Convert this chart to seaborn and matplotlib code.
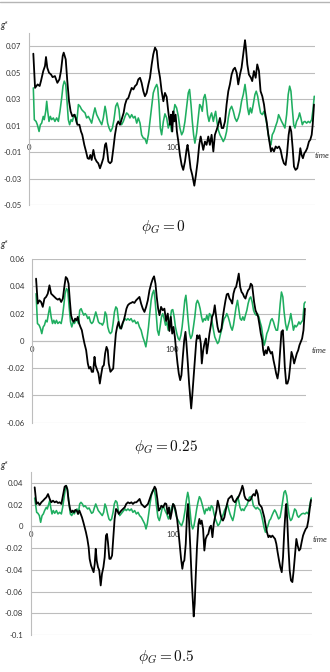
import matplotlib
matplotlib.use("Agg")
import matplotlib.pyplot as plt
import matplotlib.transforms as mtransforms
from matplotlib.lines import Line2D
import seaborn as sns

# ---------------- data ----------------
# panel 1 (phi_G = 0)
p1_black_t = [3.0,4.2,6.0,7.4,8.3,9.9,11.1,11.8,12.7,13.9,15.3,16.4,18.0,19.7,21.1,22.2,23.4,24.1,25.5,26.6,27.8,28.9,30.1,31.5,32.4,33.6,35.0,36.1,37.0,38.4,39.6,40.7,41.7,42.6,43.5,44.7,45.8,47.0,48.1,49.3,50.5,51.6,52.8,53.5,54.2,55.1,56.3,57.4,58.6,59.7,60.9,62.0,63.2,64.3,65.7,66.7,67.8,69.0,70.1,71.3,72.5,73.6,74.8,75.9,77.1,78.2,79.4,80.5,81.7,82.9,84.0,85.2,86.3,87.5,88.7,89.8,91.0,92.1,93.3,94.4,95.6,96.7,97.9,98.6,99.5,100.2,100.9,101.8,102.7,103.7,104.8,106.0,107.1,108.3,109.4,110.1,111.1,112.2,113.4,114.8,115.9,117.1,118.2,119.2,119.9,121.0,122.2,123.3,124.5,125.6,126.8,128.0,129.1,130.3,131.4,132.6,133.8,134.9,136.1,137.2,138.4,139.5,140.7,141.9,143.0,144.2,145.3,146.5,147.6,148.8,150.0,150.6,151.6,152.7,154.1,155.0,156.2,157.4,158.5,159.7,160.8,162.0,163.2,163.8,165.0,166.2,167.3,168.0,168.9,170.1,171.3,172.4,173.6,174.7,175.9,177.0,178.2,179.1,180.3,181.2,182.1,183.1,184.0,185.1,186.3,187.5,188.4,189.3,190.2,191.2,192.1,193.2,194.4,195.3,196.3,197.0,197.9]
p1_black_v = [0.0644,0.0386,0.0412,0.040,0.0437,0.0513,0.0551,0.0619,0.0538,0.050,0.0487,0.0467,0.0475,0.0424,0.045,0.0513,0.0627,0.0652,0.0601,0.0437,0.0285,0.0209,0.0171,0.0184,0.0159,0.0108,0.0108,0.0057,0.0032,-0.0044,-0.0094,-0.0145,-0.015,-0.012,-0.0158,-0.0082,-0.0145,-0.017,-0.0183,-0.0221,-0.0183,-0.0145,-0.0044,-0.0031,-0.0082,-0.017,-0.0183,-0.017,-0.0069,0.0032,0.0108,0.0133,0.0108,0.0146,0.0197,0.026,0.0298,0.031,0.0348,0.0386,0.0374,0.0399,0.0412,0.045,0.0462,0.0424,0.0361,0.0323,0.0348,0.0412,0.0462,0.0563,0.0639,0.069,0.0665,0.0538,0.0462,0.0361,0.0285,0.0348,0.0318,0.0209,0.0108,0.0184,0.0057,0.0209,0.0133,0.0184,0.0057,-0.0019,-0.012,-0.0196,-0.0233,-0.017,-0.0082,-0.0044,-0.012,-0.0221,-0.0272,-0.0352,-0.0272,-0.017,-0.0044,0.0019,-0.0019,-0.0082,-0.0019,-0.0044,0.0019,-0.0044,0.0032,-0.0094,0.0032,0.007,0.0108,0.0159,0.0083,0.0083,0.0133,0.026,0.0361,0.0412,0.0487,0.0525,0.0538,0.050,0.0412,0.0487,0.0538,0.0639,0.0746,0.069,0.0563,0.0487,0.0462,0.0437,0.0513,0.0462,0.0563,0.0513,0.0361,0.0323,0.026,0.0209,0.0133,0.0032,-0.0044,-0.0094,-0.0069,-0.0094,-0.0056,-0.0069,-0.0056,-0.0082,-0.0145,-0.0183,-0.0196,-0.012,0.0032,0.0095,0.0057,-0.0069,-0.0208,-0.0233,-0.0221,-0.0158,-0.0069,-0.012,-0.0145,-0.0107,-0.0094,-0.0069,-0.0019,-0.0006,0.0032,0.0108,0.026]
p1_green_t = [3.0,3.7,4.9,5.8,7.0,7.9,8.8,9.9,10.6,11.6,12.3,13.0,13.9,14.8,15.7,16.9,18.0,19.2,20.4,21.5,22.7,23.6,24.5,25.5,26.4,27.3,28.2,29.2,30.1,31.0,31.9,33.1,34.3,35.4,36.6,37.7,38.9,40.0,41.2,42.4,43.5,44.7,45.8,47.0,48.1,49.3,50.5,51.6,52.8,53.5,54.6,55.6,56.7,57.9,59.0,60.2,61.3,62.5,63.4,64.3,65.5,66.7,67.8,69.0,70.1,71.3,72.5,73.6,74.8,75.9,77.1,78.2,79.4,80.5,81.7,82.9,84.0,85.2,86.3,87.5,88.7,89.4,90.3,91.2,92.1,93.3,94.4,95.6,96.7,97.9,99.0,100.2,101.3,102.5,103.7,104.8,106.0,107.1,108.3,109.4,110.6,111.5,112.5,113.4,114.3,115.2,116.4,117.5,118.5,119.4,120.3,121.3,122.2,123.1,124.0,125.0,125.9,126.8,128.0,128.7,129.6,130.5,131.4,132.6,133.8,134.9,136.1,137.2,138.4,139.5,140.7,141.9,143.0,144.2,145.3,146.5,147.6,148.8,150.0,150.9,151.8,152.7,153.7,154.6,155.7,156.9,157.8,158.8,159.7,160.8,162.0,163.1,164.3,165.2,166.2,167.1,168.0,168.9,170.1,171.2,172.4,173.3,174.3,175.4,176.6,177.7,178.9,180.0,181.0,181.9,182.8,183.8,184.7,185.8,187.0,187.9,188.8,189.8,190.7,191.6,192.8,193.9,195.1,196.3,197.2,198.1]
p1_green_v = [0.0386,0.0146,0.0133,0.0108,0.0057,0.0108,0.012,0.0171,0.0146,0.0209,0.0285,0.0209,0.0133,0.0171,0.0146,0.0159,0.0133,0.0159,0.0133,0.0209,0.031,0.0399,0.0437,0.0412,0.0285,0.0146,0.0108,0.0146,0.0133,0.0171,0.0184,0.012,0.026,0.0247,0.0222,0.0209,0.0197,0.0159,0.0171,0.0146,0.012,0.0184,0.0235,0.0184,0.0159,0.0133,0.0108,0.0159,0.0247,0.0209,0.012,0.0083,0.0057,0.0083,0.0146,0.0247,0.0272,0.0222,0.012,0.0108,0.0133,0.0171,0.0197,0.0184,0.0159,0.0184,0.0159,0.0171,0.012,0.0159,0.012,0.0032,0.0007,0.0004,-0.0034,0.0032,0.0133,0.0247,0.0348,0.0386,0.0412,0.0386,0.026,0.0083,0.0032,0.0133,0.019,0.0159,0.0083,0.0133,0.0057,0.0184,0.026,0.0235,0.0171,0.0083,0.0032,0.0057,0.0133,0.0235,0.0348,0.0374,0.026,0.0133,0.0032,-0.0031,0.0045,0.0159,0.026,0.0247,0.0209,0.031,0.0336,0.0285,0.0184,0.0133,0.0171,0.0197,0.0133,0.0171,0.0209,0.0133,0.007,0.0032,0.0007,-0.0019,0.0007,0.0057,0.0159,0.0222,0.0247,0.0209,0.0159,0.0133,0.0159,0.0209,0.0285,0.0336,0.0412,0.0336,0.0235,0.0184,0.0235,0.0197,0.026,0.0336,0.0361,0.0323,0.026,0.0197,0.0184,0.0209,0.0159,0.0108,0.0032,-0.0019,-0.0044,0.0032,0.0057,0.0095,0.0133,0.0184,0.0159,0.0133,0.0108,0.0083,0.0184,0.0336,0.0399,0.0361,0.0235,0.0108,0.0083,0.0133,0.0159,0.0197,0.0159,0.0108,0.0128,0.0133,0.012,0.0133,0.0123,0.0146,0.0222,0.0323]

# panel 2 (phi_G = 0.25)
p2_black_t = [2.7,3.9,5.1,6.3,7.5,8.7,9.9,11.1,12.3,13.5,14.7,15.9,17.1,18.3,19.5,20.7,21.9,23.1,24.0,25.0,26.0,26.9,27.8,28.8,29.7,30.7,31.7,32.6,33.6,34.5,35.5,36.4,37.4,38.6,39.8,40.7,41.7,42.6,43.6,44.6,45.3,46.5,47.4,48.4,49.3,50.3,51.3,52.2,53.2,54.1,54.8,56.0,57.0,58.0,58.9,59.9,60.8,61.8,62.7,63.7,64.6,65.6,66.5,67.5,68.5,69.7,70.8,72.0,73.2,74.4,75.6,76.8,78.0,79.2,80.4,81.6,82.8,84.0,85.2,86.4,87.3,88.3,89.2,90.2,91.2,92.3,93.5,94.7,95.9,97.1,98.3,99.3,100.3,101.2,102.2,103.1,104.1,105.0,106.0,106.9,107.9,108.9,109.8,110.5,111.5,112.4,113.4,113.9,114.6,115.5,116.5,117.5,118.2,118.9,119.9,120.8,121.5,122.5,123.4,124.4,125.1,126.1,127.0,128.0,128.9,129.9,130.8,131.8,132.8,133.7,134.7,135.6,136.6,137.5,138.5,139.4,140.4,141.4,142.3,143.3,144.2,145.2,146.1,147.1,148.0,149.0,150.0,150.9,151.9,152.8,153.8,154.7,155.7,156.6,157.6,158.3,159.0,160.0,161.0,161.9,162.9,163.8,164.8,165.5,166.2,167.2,168.1,169.1,170.0,171.0,171.9,172.9,173.9,174.8,175.8,176.7,177.7,178.6,179.6,180.3,181.0,182.0,182.9,183.9,184.8,185.8,186.8,187.7,188.7,189.6,190.6,191.5,192.5,193.4,194.4,195.4]
p2_black_v = [0.0456,0.0273,0.0297,0.0285,0.0249,0.031,0.0322,0.0346,0.0407,0.0346,0.0334,0.0322,0.031,0.0302,0.031,0.0285,0.031,0.0407,0.0468,0.0456,0.0419,0.0297,0.0188,0.0151,0.0139,0.0163,0.0151,0.0176,0.0127,0.0102,0.0078,0.0029,-0.002,-0.0069,-0.0166,-0.0203,-0.0191,-0.0227,-0.0227,-0.0117,-0.0178,-0.0215,-0.0239,-0.0313,-0.0252,-0.0191,-0.0178,-0.0093,-0.0044,-0.0069,-0.0166,-0.0227,-0.0215,-0.0203,-0.0069,0.0053,0.0102,0.0139,0.0102,0.009,0.0127,0.0151,0.0188,0.0236,0.0261,0.0273,0.0278,0.0285,0.0278,0.0297,0.031,0.0322,0.0273,0.0236,0.0212,0.0249,0.0297,0.0371,0.0419,0.0456,0.0473,0.0419,0.0322,0.0236,0.0188,0.0249,0.0224,0.0236,0.0145,0.02,0.0072,0.0176,0.0053,0.0102,0.0029,-0.0069,-0.0166,-0.0239,-0.0288,-0.0252,-0.0117,0.0005,0.0066,-0.002,-0.0166,-0.0313,-0.0435,-0.0496,-0.041,-0.0288,-0.0142,-0.0007,0.0041,0.0017,0.0041,-0.002,-0.0166,-0.0069,-0.002,0.0017,-0.0093,-0.002,0.0053,0.0114,0.0176,0.02,0.0261,0.0176,0.0102,0.0066,0.0066,0.009,0.0176,0.0236,0.0297,0.0341,0.0346,0.031,0.0297,0.0273,0.0346,0.0383,0.0395,0.0444,0.0493,0.0395,0.0358,0.0346,0.0322,0.031,0.0346,0.0371,0.0383,0.0419,0.0407,0.0346,0.0285,0.0224,0.02,0.0176,0.0114,0.0053,0.0005,-0.0069,-0.0105,-0.0069,-0.0093,-0.0044,-0.0069,-0.0093,-0.0081,-0.0142,-0.019,-0.0239,-0.0276,-0.0215,-0.0069,0.0066,0.0078,-0.0044,-0.019,-0.0313,-0.0313,-0.0276,-0.019,-0.0081,-0.0117,-0.0166,-0.0129,-0.0093,-0.0069,-0.0032,-0.0007,0.0017,0.0078,0.0236]
p2_green_t = [2.7,3.7,4.9,5.9,6.8,7.8,8.7,9.7,10.6,11.6,12.5,13.5,14.5,15.4,16.4,17.3,18.3,19.5,20.7,21.6,22.6,23.5,24.5,25.4,26.4,27.4,28.3,29.3,30.2,31.2,32.1,33.1,34.0,35.0,35.9,36.9,37.9,38.8,39.8,40.7,41.7,42.6,43.6,44.6,45.5,46.5,47.4,48.4,49.3,50.3,51.3,52.2,53.2,54.1,55.1,56.0,57.0,57.9,58.9,59.9,60.8,61.8,62.7,63.7,64.6,65.6,66.5,67.5,68.5,69.7,70.8,72.0,73.2,74.4,75.6,76.8,78.0,79.2,80.4,81.4,82.3,83.3,84.2,85.2,86.1,87.1,87.8,88.8,89.7,90.7,91.6,92.6,93.5,94.5,95.5,96.4,97.4,98.6,99.8,100.7,101.7,102.6,103.6,104.6,105.5,106.5,107.4,108.4,109.3,110.1,110.8,111.7,112.7,113.6,114.6,115.5,116.5,117.5,118.4,119.4,120.3,121.3,122.2,123.2,124.2,125.1,126.1,127.0,128.0,128.9,129.9,130.8,131.8,132.8,133.7,134.7,135.6,136.6,137.5,138.5,139.4,140.4,141.4,142.3,143.3,144.2,145.2,146.1,147.1,148.0,149.0,150.0,150.9,151.9,152.8,153.8,154.7,155.7,156.6,157.6,158.6,159.5,160.5,161.4,162.4,163.3,164.3,165.3,166.2,167.2,168.1,169.1,170.0,171.0,171.9,172.9,173.9,174.8,175.8,176.7,177.7,178.6,179.6,180.5,181.5,182.5,183.4,184.4,185.3,186.3,187.2,188.2,189.1,190.1,191.1,192.0,193.0,193.9,194.9,195.6]
p2_green_v = [0.0346,0.0127,0.0115,0.009,0.0053,0.0102,0.0115,0.0151,0.0139,0.02,0.0249,0.0176,0.0127,0.0151,0.0127,0.0151,0.0127,0.0139,0.0127,0.0176,0.0261,0.0346,0.0383,0.0371,0.0249,0.0139,0.0102,0.0139,0.0127,0.0151,0.0151,0.0127,0.0224,0.0236,0.0212,0.0188,0.02,0.0188,0.0163,0.0176,0.0139,0.0127,0.0139,0.0176,0.0212,0.0176,0.0139,0.0127,0.0127,0.0115,0.0139,0.0212,0.0188,0.0102,0.0066,0.0053,0.0066,0.0127,0.0212,0.0249,0.0236,0.0151,0.009,0.009,0.0115,0.0151,0.0163,0.0151,0.0163,0.0151,0.0163,0.0139,0.0151,0.0127,0.0139,0.0102,0.0078,0.0029,-0.0007,-0.0044,0.0017,0.0102,0.02,0.0297,0.0346,0.0371,0.0322,0.02,0.0078,0.0041,0.0102,0.0176,0.02,0.0163,0.0115,0.0139,0.0078,0.0139,0.0224,0.0229,0.0176,0.0102,0.0053,0.0017,0.0005,0.0041,0.0102,0.02,0.0297,0.0334,0.0261,0.0151,0.0053,0.0017,0.0041,0.0102,0.0176,0.0273,0.0297,0.0273,0.0236,0.0176,0.0139,0.0163,0.0151,0.0188,0.0151,0.02,0.0188,0.0139,0.0078,0.0029,0.0005,-0.002,-0.0007,0.0041,0.0078,0.0127,0.0163,0.0176,0.02,0.0176,0.0139,0.0102,0.0078,0.0115,0.0188,0.0249,0.0297,0.0236,0.0163,0.0151,0.0176,0.0151,0.0188,0.0224,0.0273,0.031,0.0322,0.0285,0.0224,0.02,0.0188,0.02,0.0176,0.0139,0.0102,0.0029,-0.0032,0.0005,0.0053,0.0078,0.0114,0.0151,0.0163,0.0139,0.0102,0.0078,0.0078,0.0151,0.0273,0.0358,0.0322,0.0212,0.0127,0.0078,0.0114,0.0151,0.02,0.0139,0.0078,0.0114,0.0102,0.0115,0.0139,0.0122,0.0139,0.0151,0.0273,0.0285]

# panel 3 (phi_G = 0.5)
p3_black_t = [2.8,4.0,5.1,6.3,7.5,8.7,9.8,11.0,12.2,13.4,14.5,15.7,16.9,18.1,19.2,20.4,21.6,22.7,23.9,24.9,25.8,26.7,27.7,28.6,29.6,30.5,31.4,32.4,33.3,34.3,35.2,36.1,37.1,38.0,38.9,39.9,40.8,41.5,42.5,43.4,44.3,45.1,45.8,46.5,47.4,48.3,49.3,50.2,51.2,52.1,53.0,53.7,54.4,55.4,56.3,57.3,58.2,59.1,60.1,61.0,62.0,62.9,63.8,65.0,66.2,67.3,68.5,69.7,70.9,72.0,73.2,74.4,75.6,76.7,77.9,79.1,80.3,81.4,82.6,83.8,85.0,86.1,87.3,88.2,89.2,90.1,91.1,92.0,93.2,94.6,95.5,96.5,97.4,98.4,99.3,100.2,101.2,102.1,103.1,104.0,104.9,105.9,106.8,107.5,108.2,109.2,110.1,110.8,111.5,112.4,113.4,114.3,114.8,115.5,116.2,117.1,118.1,118.8,119.5,120.4,121.4,122.3,123.2,124.2,125.1,126.1,127.0,128.0,128.9,129.8,130.8,131.7,132.6,133.6,134.5,135.4,136.4,137.3,138.3,139.2,140.4,141.5,142.7,143.9,145.1,146.2,147.2,148.1,149.1,149.8,150.5,151.4,152.4,153.3,154.2,155.2,156.1,157.0,158.0,158.9,159.9,160.8,161.8,162.7,163.6,164.5,165.5,166.4,167.4,168.3,169.2,170.2,171.1,172.1,173.0,173.9,174.9,175.8,176.8,177.7,178.6,179.6,180.0,180.7,181.5,182.4,183.3,184.3,185.2,186.2,187.1,188.0,189.0,189.9,190.8,191.8,192.7,193.7,194.6,195.5,196.5,197.4]
p3_black_v = [0.0359,0.0206,0.0221,0.0197,0.0221,0.0236,0.0252,0.0267,0.0297,0.0252,0.0221,0.0236,0.0221,0.023,0.0215,0.0221,0.0206,0.0282,0.0365,0.0374,0.0343,0.0236,0.016,0.0129,0.0145,0.0129,0.0151,0.0145,0.0114,0.0145,0.0114,0.0083,0.0037,-0.0009,-0.0054,-0.0116,-0.0192,-0.0299,-0.036,-0.0391,-0.0422,-0.0345,-0.0207,-0.0314,-0.0376,-0.0406,-0.0544,-0.0437,-0.0376,-0.0284,-0.0085,-0.007,-0.0146,-0.0299,-0.0299,-0.0268,-0.01,0.0068,0.016,0.0145,0.0114,0.0129,0.0145,0.016,0.0175,0.0206,0.0221,0.0212,0.0221,0.0206,0.0221,0.0221,0.0236,0.0252,0.0206,0.019,0.0175,0.019,0.0206,0.0252,0.0297,0.0328,0.0365,0.0343,0.0252,0.0145,0.016,0.019,0.0175,0.0212,0.0206,0.0114,0.0175,0.0068,0.0129,0.0206,0.019,0.0145,0.0068,-0.0039,-0.0162,-0.0299,-0.0391,-0.033,-0.0314,-0.0162,0.0114,0.0206,0.0053,-0.0192,-0.0498,-0.0712,-0.0829,-0.0712,-0.0468,-0.0192,0.0022,0.0068,0.0022,0.0053,-0.0024,-0.0223,-0.0116,-0.0085,-0.007,-0.0009,0.0006,-0.01,0.0022,0.0083,0.0145,0.0236,0.019,0.0114,0.0068,0.0053,0.0083,0.0145,0.0206,0.0252,0.0267,0.0282,0.0236,0.0221,0.0252,0.0267,0.0297,0.0328,0.0374,0.0343,0.0282,0.0252,0.0243,0.0236,0.0236,0.0252,0.0282,0.0297,0.0282,0.0334,0.0297,0.0206,0.019,0.0175,0.0129,0.0083,0.0006,-0.0054,-0.01,-0.0085,-0.01,-0.0085,-0.01,-0.0116,-0.0162,-0.0238,-0.0314,-0.0376,-0.0422,-0.0284,-0.0039,0.0175,0.0206,0.0053,-0.0192,-0.0406,-0.0498,-0.0513,-0.0406,-0.0253,-0.0116,-0.0177,-0.0223,-0.0208,-0.0146,-0.0085,-0.0054,-0.0024,-0.0009,0.0053,0.016,0.0242]
p3_green_t = [2.8,4.2,5.1,6.1,7.0,8.0,8.9,9.8,11.0,11.7,12.7,13.4,14.1,15.0,15.9,16.9,18.1,19.2,20.4,21.6,22.5,23.5,24.4,25.1,26.0,27.0,27.9,28.9,29.8,30.7,31.7,32.6,33.5,34.5,35.4,36.4,37.3,38.2,39.2,40.1,41.1,42.0,42.9,43.9,44.8,45.8,46.7,47.6,48.6,49.5,50.4,51.4,52.3,53.2,54.2,55.1,56.1,57.0,58.0,58.9,59.8,60.8,61.7,62.7,63.6,64.5,65.5,66.4,67.3,68.5,69.7,70.9,72.0,73.2,74.4,75.6,76.7,77.9,79.1,80.3,81.2,82.1,83.1,84.0,85.0,85.9,86.8,87.8,88.7,89.6,90.6,91.5,92.5,93.4,94.6,95.8,97.0,98.2,99.3,100.5,101.6,102.8,104.0,105.2,106.3,107.5,108.7,109.6,110.6,111.3,112.2,113.1,114.1,115.0,116.0,116.9,117.8,118.8,119.7,120.7,121.6,122.5,123.5,124.4,125.4,126.3,127.2,128.2,129.1,130.1,131.0,131.9,132.9,133.8,134.7,135.7,136.6,137.6,138.5,139.4,140.4,141.3,142.3,143.2,144.1,145.1,145.8,146.5,147.4,148.4,149.3,150.2,151.2,152.1,153.0,154.0,154.9,155.9,156.8,157.7,158.7,159.6,160.6,161.5,162.4,163.4,164.3,165.3,166.2,167.1,168.1,169.0,169.9,170.9,171.8,172.8,173.7,174.6,175.6,176.5,177.5,178.4,179.3,180.3,181.2,182.2,183.1,184.0,185.0,185.9,186.9,187.8,188.7,189.7,190.8,192.0,193.2,194.4,195.5,196.7,197.6]
p3_green_v = [0.026,0.0129,0.012,0.0099,0.0037,0.0099,0.0114,0.0145,0.0175,0.016,0.0206,0.0236,0.0175,0.0114,0.0145,0.012,0.0145,0.0114,0.0129,0.0114,0.0175,0.0267,0.0343,0.0374,0.0328,0.0206,0.0114,0.0099,0.0129,0.0114,0.0145,0.016,0.0114,0.0206,0.0221,0.0206,0.0181,0.019,0.0175,0.016,0.0169,0.0145,0.012,0.0129,0.0169,0.0206,0.0175,0.0145,0.0129,0.0114,0.0099,0.0129,0.0206,0.0175,0.0114,0.0068,0.0053,0.0068,0.0129,0.0206,0.0236,0.0221,0.0145,0.0099,0.0114,0.0129,0.0145,0.016,0.0145,0.016,0.0145,0.016,0.0129,0.0145,0.0114,0.0129,0.0099,0.0083,0.0053,0.0022,-0.0024,0.0022,0.0114,0.0206,0.0282,0.0328,0.0343,0.0282,0.0175,0.0083,0.0053,0.0099,0.016,0.019,0.0145,0.0114,0.0068,0.0114,0.0175,0.0206,0.0145,0.0083,0.0053,0.0022,0.0006,0.0053,0.0145,0.0236,0.0313,0.0267,0.0145,0.0022,-0.0024,0.0006,0.0083,0.016,0.0221,0.0273,0.0252,0.0206,0.016,0.0114,0.016,0.0145,0.0175,0.0145,0.019,0.0175,0.0114,0.0068,0.0037,0.0006,0.0022,0.0053,0.0083,0.0114,0.0151,0.0175,0.0206,0.016,0.0114,0.0083,0.0053,0.0099,0.0175,0.0236,0.0273,0.0236,0.0175,0.0145,0.016,0.0145,0.0175,0.019,0.0221,0.0267,0.0273,0.0252,0.019,0.0175,0.016,0.0175,0.016,0.0151,0.0114,0.0053,-0.0009,-0.0054,-0.0024,0.0006,0.0053,0.0068,0.0099,0.0129,0.0151,0.0129,0.0099,0.0068,0.0083,0.0145,0.0236,0.0313,0.0328,0.0282,0.0175,0.0083,0.0053,0.0068,0.0114,0.016,0.0145,0.0099,0.0083,0.0099,0.0114,0.012,0.0114,0.0129,0.0114,0.0206,0.0261]

captions = [r"$\phi_G = 0$", r"$\phi_G = 0.25$", r"$\phi_G = 0.5$"]
y_ticks = [[-0.05, -0.03, -0.01, 0.01, 0.03, 0.05, 0.07],
           [-0.06, -0.04, -0.02, 0, 0.02, 0.04, 0.06],
           [-0.1, -0.08, -0.06, -0.04, -0.02, 0, 0.02, 0.04]]
y_tick_labels = [["-0.05", "-0.03", "-0.01", "0.01", "0.03", "0.05", "0.07"],
                 ["-0.06", "-0.04", "-0.02", "0", "0.02", "0.04", "0.06"],
                 ["-0.1", "-0.08", "-0.06", "-0.04", "-0.02", "0", "0.02", "0.04"]]
x_ticks = [0, 100]
x_tick_labels = ["0", "100"]
y_label = "g*"
x_label = "time"

# ---------------- style ----------------
sns.set_style("white")
plt.rcParams["font.family"] = ["Lato", "DejaVu Sans"]
plt.rcParams["mathtext.fontset"] = "cm"

W, H = 330, 672
fig = plt.figure(figsize=(W / 100, H / 100), dpi=100)

BLACK = "#000000"
GREEN = "#1fae60"
GRID = "#bdbdbd"

# axes boxes in pixels: left, right, top, bottom
boxes = [(29, 315, 33, 205.3), (32.3, 306, 259, 422.7), (30.7, 311.7, 472, 635)]
ylims = [(-0.05, 0.08), (-0.06, 0.06), (-0.1, 0.05)]
xlims = [(0, 198.6), (0, 196.2), (0, 197.9)]
caption_xy = [(163, 227), (166, 447), (166, 657)]
glabel_y = [26, 245, 465]
time_off = [(0, -16), (6, -10), (1, -13)]

series = [
    (p1_black_t, p1_black_v, p1_green_t, p1_green_v),
    (p2_black_t, p2_black_v, p2_green_t, p2_green_v),
    (p3_black_t, p3_black_v, p3_green_t, p3_green_v),
]

for i in range(3):
    l, r, t, b = boxes[i]
    ax = fig.add_axes([l / W, 1 - b / H, (r - l) / W, (b - t) / H])
    bt, bv, gt, gv = series[i]
    sns.lineplot(x=gt, y=gv, ax=ax, color=GREEN, linewidth=1.15,
                 estimator=None, sort=False, zorder=3)
    sns.lineplot(x=bt, y=bv, ax=ax, color=BLACK, linewidth=1.3,
                 estimator=None, sort=False, zorder=4)
    ax.set_xlim(*xlims[i])
    ax.set_ylim(*ylims[i])
    ax.set_yticks(y_ticks[i])
    ax.set_yticklabels(y_tick_labels[i])
    ax.set_xticks(x_ticks)
    ax.set_xticklabels(x_tick_labels)
    ax.set_xlabel("")
    ax.set_ylabel("")
    for yv in y_ticks[i]:
        ax.axhline(yv, color=GRID, linewidth=0.8, zorder=1)
    ax.spines["top"].set_visible(False)
    ax.spines["right"].set_visible(False)
    ax.spines["left"].set_color(GRID)
    ax.spines["left"].set_linewidth(0.8)
    ax.spines["bottom"].set_position(("data", 0))
    ax.spines["bottom"].set_color(GRID)
    ax.spines["bottom"].set_linewidth(0.8)
    ax.tick_params(axis="y", length=0, pad=5.5, labelsize=5.6, labelcolor="#333333")
    ax.tick_params(axis="x", length=0, pad=3.5, labelsize=5.6, labelcolor="#333333")
    ax.set_facecolor("none")
    trans = mtransforms.blended_transform_factory(ax.transAxes, ax.transData)
    ax.annotate(x_label, xy=(1, 0), xycoords=trans, xytext=time_off[i],
                textcoords="offset pixels", ha="left", va="center",
                fontsize=5.8, style="italic", color="#333333", annotation_clip=False)
    fig.text(0, 1 - glabel_y[i] / H, y_label, ha="left", va="center",
             fontsize=6.2, style="italic", color="#333333")
    cx, cy = caption_xy[i]
    fig.text(cx / W, 1 - cy / H, captions[i], ha="center", va="center",
             fontsize=11, color="#111111")

fig.add_artist(Line2D([0, 1], [1 - 1.5 / H, 1 - 1.5 / H], color="#b5b5b5", linewidth=1))

fig.savefig("out.png", dpi=100)
